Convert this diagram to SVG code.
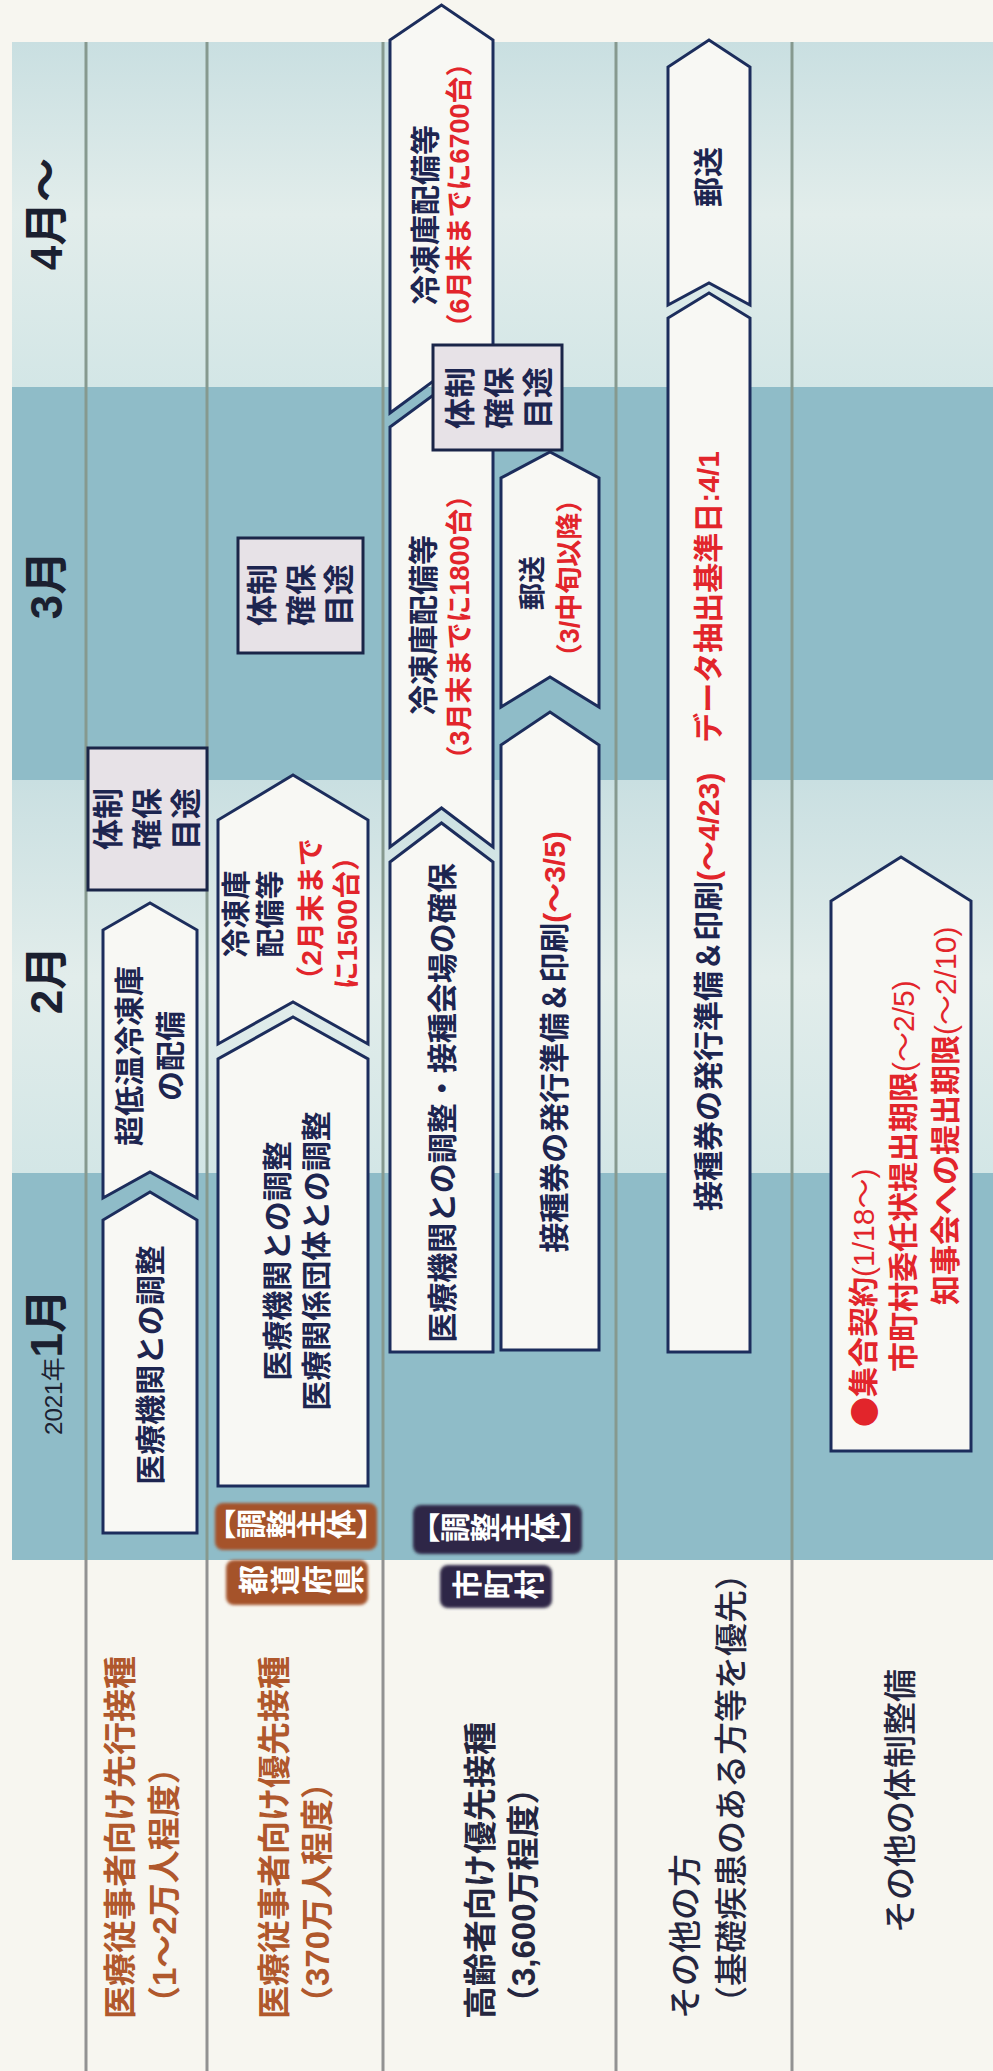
<svg xmlns="http://www.w3.org/2000/svg" width="993" height="2071" viewBox="0 0 993 2071">
<defs>
<linearGradient id="light" x1="0" y1="0" x2="1" y2="0">
<stop offset="0" stop-color="#d3e6e6"/>
<stop offset="0.5" stop-color="#e2edeb"/>
<stop offset="1" stop-color="#c9dfe1"/>
</linearGradient>
<filter id="soft" x="-10%" y="-10%" width="120%" height="120%"><feGaussianBlur stdDeviation="1.6"/></filter>
<style>
text{font-family:'Liberation Sans','Noto Sans CJK JP',sans-serif;}
.bar{fill:#f8f8f4;stroke:#1c2d5c;stroke-width:3;stroke-linejoin:miter;}
.box{fill:#e7e2e7;stroke:#1a2548;stroke-width:3;}
.bt{font-size:30px;font-weight:700;fill:#1d2550;text-anchor:middle;dominant-baseline:central;}
.bx{font-size:31px;}
.s29{font-size:29px;}
.s28{font-size:28px;}
.s27{font-size:27px;}
.st{text-anchor:start;}
.red{fill:#e2252b;}
.nv{fill:#1d2550;}
.dot{font-family:'Noto Sans CJK JP',sans-serif;}
.mon{fill:#1b2030;text-anchor:middle;}
.rl{font-size:33px;font-weight:700;}
.rm{font-weight:500;}
.brown{fill:#b0582c;}
.navy{fill:#25263f;}
.vt{font-size:30px;font-weight:700;fill:#ffffff;text-anchor:middle;writing-mode:vertical-rl;}
.div1{stroke:#86998f;stroke-width:3;}
.div2{stroke:#929292;stroke-width:3;}
</style>
</defs>
<g id="landscape" transform="translate(0,2071) rotate(-90)">
<g id="background">
<rect x="0" y="0" width="2071" height="993" fill="#f7f6f0"/>
<rect x="511" y="12" width="387" height="981" fill="#8fbcc8"/>
<rect x="898" y="12" width="393" height="981" fill="url(#light)"/>
<rect x="1291" y="12" width="393" height="981" fill="#8fbcc8"/>
<rect x="1684" y="12" width="345" height="981" fill="url(#light)"/>
<g class="div1">
<line x1="511" y1="86" x2="2029" y2="86"/>
<line x1="511" y1="207" x2="2029" y2="207"/>
<line x1="511" y1="383" x2="2029" y2="383"/>
<line x1="511" y1="616" x2="2029" y2="616"/>
<line x1="511" y1="792" x2="2029" y2="792"/>
</g>
<g class="div2">
<line x1="0" y1="86" x2="511" y2="86"/>
<line x1="0" y1="207" x2="511" y2="207"/>
<line x1="0" y1="383" x2="511" y2="383"/>
<line x1="0" y1="616" x2="511" y2="616"/>
<line x1="0" y1="792" x2="511" y2="792"/>
</g>
</g>
<g id="months">
<text class="mon" x="709" y="62"><tspan font-size="24">2021年</tspan><tspan font-size="44" font-weight="700">1月</tspan></text>
<text class="mon" x="1091" y="62" font-size="44" font-weight="700">2月</text>
<text class="mon" x="1486" y="62" font-size="44" font-weight="700">3月</text>
<text class="mon" x="1857" y="62" font-size="44" font-weight="700">4月～</text>
</g>
<g id="row-labels">
<g id="row1-label">
<text class="rl brown" x="52" y="132">医療従事者向け先行接種</text>
<text class="rl brown" x="52" y="176">（1～2万人程度）</text>
</g>
<g id="row2-label">
<text class="rl brown" x="52" y="286">医療従事者向け優先接種</text>
<text class="rl brown" x="52" y="329">（370万人程度）</text>
</g>
<g id="row3-label">
<text class="rl navy" x="52" y="492">高齢者向け優先接種</text>
<text class="rl navy" x="52" y="535">（3,600万程度）</text>
</g>
<g id="row4-label">
<text class="rl rm navy" x="52" y="697">その他の方</text>
<text class="rl rm navy" x="52" y="743">（基礎疾患のある方等を優先）</text>
</g>
<g id="row5-label">
<text class="rl rm navy" x="270" y="912" text-anchor="middle">その他の体制整備</text>
</g>
</g>
<g id="badge-prefecture">
<rect x="521" y="215" width="47" height="162" rx="8" fill="#a5532b" filter="url(#soft)"/>
<rect x="466" y="226" width="45" height="142" rx="8" fill="#a5532b" filter="url(#soft)"/>
<text class="vt" x="544.5" y="296">【調整主体】</text>
<text class="vt" x="488.5" y="302" letter-spacing="2">都道府県</text>
</g>
<g id="badge-municipality">
<rect x="517" y="413" width="49" height="169" rx="8" fill="#2e2846" filter="url(#soft)"/>
<rect x="463" y="440" width="43" height="112" rx="8" fill="#2e2846" filter="url(#soft)"/>
<text class="vt" x="541" y="500">【調整主体】</text>
<text class="vt" x="484" y="498" letter-spacing="1">市町村</text>
</g>
<g id="connectors"></g>
<g id="bar-a">
<polygon class="bar" points="538,103 851,103 879,150 851,197 538,197"/>
<text class="bt" x="706" y="150">医療機関との調整</text>
</g>
<g id="bar-b">
<polygon class="bar" points="873,103 1141,103 1168,150 1141,197 873,197 899,150"/>
<text class="bt" x="1015" y="129">超低温冷凍庫</text>
<text class="bt" x="1015" y="170">の配備</text>
</g>
<g id="box-1">
<rect class="box" x="1181" y="88" width="142" height="119"/>
<text class="bt bx" x="1252" y="108">体制</text>
<text class="bt bx" x="1252" y="147">確保</text>
<text class="bt bx" x="1252" y="186">目途</text>
</g>
<g id="bar-c">
<polygon class="bar" points="585,218 1012,218 1054,293 1012,368 585,368"/>
<text class="bt" x="810" y="277">医療機関との調整</text>
<text class="bt" x="810" y="316">医療関係団体との調整</text>
</g>
<g id="bar-d">
<polygon class="bar" points="1027,218 1251,218 1296,293 1251,368 1027,368 1069,293"/>
<text class="bt s29" x="1157" y="237">冷凍庫</text>
<text class="bt s29" x="1157" y="271">配備等</text>
<text class="bt s28 red" x="1155" y="311">（2月末まで</text>
<text class="bt s28 red" x="1155" y="347">に1500台）</text>
</g>
<g id="box-2">
<rect class="box" x="1418" y="238" width="115" height="125"/>
<text class="bt bx" x="1476" y="262">体制</text>
<text class="bt bx" x="1476" y="301">確保</text>
<text class="bt bx" x="1476" y="339">目途</text>
</g>
<g id="bar-e">
<polygon class="bar" points="719,390 1209,390 1248,441.5 1209,493 719,493"/>
<text class="bt" x="968" y="442">医療機関との調整・接種会場の確保</text>
</g>
<g id="bar-f">
<polygon class="bar" points="1224,390 1644,390 1682,441.5 1644,493 1224,493 1263,441.5"/>
<text class="bt" x="1446" y="423">冷凍庫配備等</text>
<text class="bt s27 red" x="1444" y="460">（3月末までに1800台）</text>
</g>
<g id="bar-g">
<polygon class="bar" points="1658,390 2031,390 2066,441.5 2031,493 1658,493 1696,441.5"/>
<text class="bt" x="1856" y="425">冷凍庫配備等</text>
<text class="bt s27 red" x="1876" y="460">（6月末までに6700台）</text>
</g>
<g id="bar-h">
<polygon class="bar" points="721,501 1326,501 1359,550 1326,599 721,599"/>
<text class="bt" x="1029" y="554"><tspan class="nv">接種券の発行準備＆印刷</tspan><tspan class="red">(～3/5)</tspan></text>
</g>
<g id="bar-i">
<polygon class="bar" points="1364,501 1593,501 1619,550 1593,599 1364,599 1394,550"/>
<text class="bt s27" x="1488" y="533">郵送</text>
<text class="bt s27 red" x="1493" y="570">（3/中旬以降）</text>
</g>
<g id="box-3">
<rect class="box" x="1621" y="433" width="105" height="129"/>
<text class="bt bx" x="1673" y="460">体制</text>
<text class="bt bx" x="1673" y="499">確保</text>
<text class="bt bx" x="1673" y="538">目途</text>
</g>
<g id="bar-j">
<polygon class="bar" points="719,668 1753,668 1778,709 1753,750 719,750"/>
<text class="bt" x="1240" y="708"><tspan class="nv">接種券の発行準備＆印刷</tspan><tspan class="red">(～4/23)　データ抽出基準日:4/1</tspan></text>
</g>
<g id="bar-k">
<polygon class="bar" points="1766,668 2004,668 2031,709 2004,750 1766,750 1788,709"/>
<text class="bt" x="1894" y="708">郵送</text>
</g>
<g id="bar-l">
<polygon class="bar" points="620,831 1170,831 1214,901 1170,971 620,971"/>
<text class="bt st red" x="644" y="863"><tspan class="dot">●</tspan><tspan>集合契約</tspan><tspan font-weight="400">(1/18～)</tspan></text>
<text class="bt st red" x="699" y="903"><tspan>市町村委任状提出期限</tspan><tspan font-weight="400">(～2/5)</tspan></text>
<text class="bt st red" x="766" y="945"><tspan>知事会への提出期限</tspan><tspan font-weight="400">(～2/10)</tspan></text>
</g>
</g>
</svg>
